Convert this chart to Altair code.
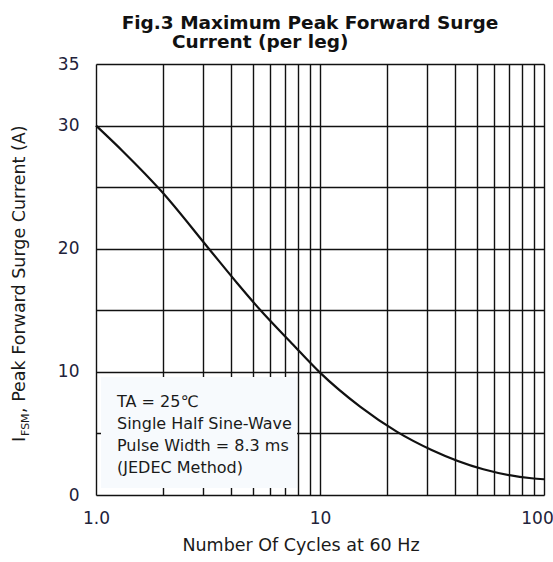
import altair as alt
import pandas as pd

# ---- data ----
cycles = [1, 1.32, 1.96, 3.17, 4.27, 5.4, 7.47, 10, 15.1, 22, 31.5, 53.6, 88, 100]
current = [30, 27.9, 24.66, 20.06, 17.2, 15.04, 12.33, 9.94, 7.18, 5.15, 3.66, 2.09, 1.36, 1.28]

x_grid = [1, 2, 3, 4, 5, 6, 7, 8, 9, 10, 20, 30, 40, 50, 60, 70, 80, 90, 100]
y_grid = [0, 5, 10, 15, 20, 25, 30, 35]

title_lines = ["Fig.3 Maximum Peak Forward Surge", "Current (per leg)"]
note_lines = ["TA = 25\u2103", "Single Half Sine-Wave", "Pulse Width = 8.3 ms", "(JEDEC Method)"]
x_title = "Number Of Cycles at 60 Hz"
y_title_parts = ["I", "FSM", " , Peak Forward Surge Current (A)"]

FONT = "DejaVu Sans"
LABEL_COLOR = "#22223a"
TEXT_COLOR = "#1a1a1a"

df = pd.DataFrame({"cycles": cycles, "current": current})

xscale = alt.Scale(type="log", domain=[1, 100], nice=False)
yscale = alt.Scale(domain=[0, 35], nice=False, zero=False)

xaxis = alt.Axis(
    values=x_grid, grid=True, ticks=False, domain=False,
    gridColor="#111111", gridWidth=1.4, gridOpacity=1,
    labelExpr="datum.value == 1 ? '1.0' : (datum.value == 10 ? '10' : (datum.value == 100 ? '100' : ''))",
    labelFont=FONT, labelFontSize=17, labelColor=LABEL_COLOR,
    labelPadding=15, labelFlush=False, labelOverlap=False, labelBound=False,
    labelOffset={"condition": {"test": "datum.value == 100", "value": -7}, "value": 0},
    title=None,
)
yaxis = alt.Axis(
    values=y_grid, grid=True, ticks=False, domain=False,
    gridColor="#111111", gridWidth=1.4, gridOpacity=1,
    labelExpr="(datum.value % 10 == 0 || datum.value == 35) ? datum.label : ''",
    labelFont=FONT, labelFontSize=17, labelColor=LABEL_COLOR,
    labelPadding=17, labelOverlap=False, labelBound=False,
    title=None,
)

curve = alt.Chart(df).mark_line(color="#111111", strokeWidth=2.2, interpolate="monotone").encode(
    x=alt.X("cycles:Q", scale=xscale, axis=xaxis),
    y=alt.Y("current:Q", scale=yscale, axis=yaxis),
)

# annotation box (light background that hides the grid)
box = alt.Chart(pd.DataFrame({"k": [0]})).mark_rect(fill="#f7fafd").encode(
    x=alt.value(5), x2=alt.value(201), y=alt.value(313), y2=alt.value(424)
)


def txt(s, x, y, size, bold=False, align="left", angle=0, color=TEXT_COLOR):
    return alt.Chart(pd.DataFrame({"t": [s]})).mark_text(
        font=FONT, fontSize=size, fontWeight="bold" if bold else "normal",
        color=color, align=align, baseline="alphabetic", angle=angle,
    ).encode(x=alt.value(x), y=alt.value(y), text="t:N")


notes = [txt(s, 21, 342.5 + 22.3 * i, 16) for i, s in enumerate(note_lines)]

t1 = txt(title_lines[0], 214, -35, 18.5, bold=True, align="center", color="#111111")
t2 = txt(title_lines[1], 76, -16, 18.5, bold=True, align="left", color="#111111")
xt = txt(x_title, 205, 487, 17.5, align="center")
yt1 = txt(y_title_parts[0], -71, 378, 17.5, angle=270)
yt2 = txt(y_title_parts[1], -67, 372, 11, angle=270)
yt3 = txt(y_title_parts[2], -71, 349, 17.5, angle=270)

chart = alt.layer(curve, box, *notes, t1, t2, xt, yt1, yt2, yt3).properties(
    width=448, height=431,
    autosize=alt.AutoSizeParams(type="none"),
    padding={"left": 96, "top": 64, "right": 9, "bottom": 67},
).configure_view(stroke="#111111", strokeWidth=1.5).configure(background="white")

chart.save("out.html", embed_options={"renderer": "svg", "actions": False})
